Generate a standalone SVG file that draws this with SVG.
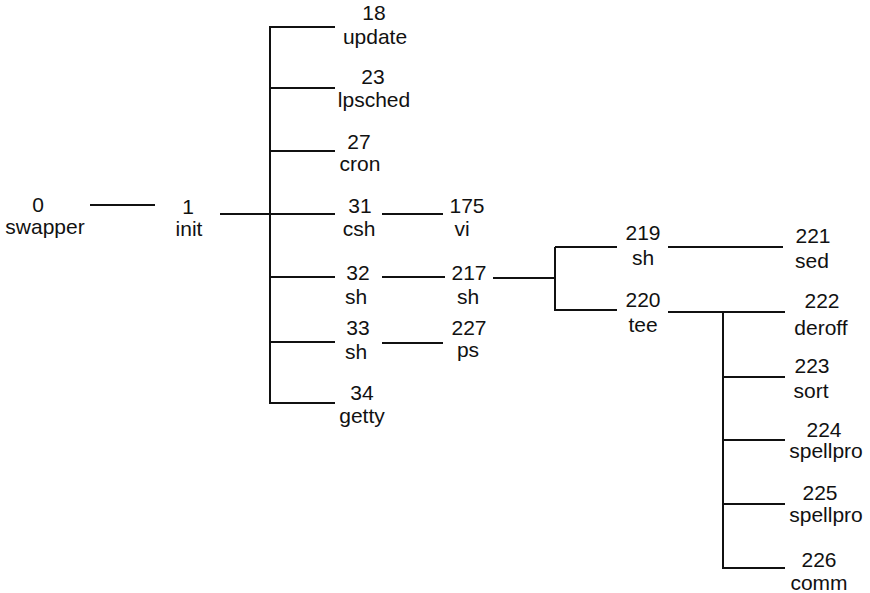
<svg xmlns="http://www.w3.org/2000/svg" width="870" height="593" viewBox="0 0 870 593">
<style>
text{font-family:"Liberation Sans",Arial,sans-serif;font-size:21px;fill:#111;text-anchor:middle}
.c line{stroke:#111;stroke-width:2;fill:none}
</style>
<rect width="870" height="593" fill="#fff"/>
<g class="c" id="connectors">
<line x1="90" y1="205" x2="155" y2="205"/>
<line x1="220" y1="214" x2="270" y2="214"/>
<line x1="270" y1="26" x2="270" y2="404"/>
<line x1="270" y1="27" x2="335" y2="27"/>
<line x1="270" y1="88" x2="335" y2="88"/>
<line x1="270" y1="151" x2="335" y2="151"/>
<line x1="270" y1="214" x2="335" y2="214"/>
<line x1="270" y1="277" x2="335" y2="277"/>
<line x1="270" y1="342" x2="335" y2="342"/>
<line x1="270" y1="403" x2="335" y2="403"/>
<line x1="382" y1="214" x2="443" y2="214"/>
<line x1="382" y1="277" x2="445" y2="277"/>
<line x1="382" y1="343" x2="443" y2="343"/>
<line x1="493" y1="278" x2="556" y2="278"/>
<line x1="555" y1="247" x2="555" y2="311"/>
<line x1="555" y1="247" x2="617" y2="247"/>
<line x1="555" y1="310" x2="617" y2="310"/>
<line x1="668" y1="247" x2="783" y2="247"/>
<line x1="668" y1="312" x2="785" y2="312"/>
<line x1="723" y1="311" x2="723" y2="569"/>
<line x1="723" y1="377" x2="785" y2="377"/>
<line x1="723" y1="440" x2="785" y2="440"/>
<line x1="723" y1="504" x2="785" y2="504"/>
<line x1="723" y1="568" x2="785" y2="568"/>
</g>
<g id="n0"><text x="38" y="212">0</text><text x="45" y="234">swapper</text></g>
<g id="n1"><text x="188" y="214">1</text><text x="189" y="236">init</text></g>
<g id="n18"><text x="374" y="20">18</text><text x="375" y="44">update</text></g>
<g id="n23"><text x="373" y="84">23</text><text x="374" y="107">lpsched</text></g>
<g id="n27"><text x="359" y="149">27</text><text x="360" y="171">cron</text></g>
<g id="n31"><text x="360" y="213">31</text><text x="359" y="236">csh</text></g>
<g id="n32"><text x="358" y="280">32</text><text x="356" y="304">sh</text></g>
<g id="n33"><text x="358" y="335">33</text><text x="356" y="359">sh</text></g>
<g id="n34"><text x="362" y="400">34</text><text x="362" y="423">getty</text></g>
<g id="n175"><text x="467" y="213">175</text><text x="462" y="236">vi</text></g>
<g id="n217"><text x="469" y="280">217</text><text x="468" y="304">sh</text></g>
<g id="n227"><text x="469" y="335">227</text><text x="468" y="357">ps</text></g>
<g id="n219"><text x="643" y="240">219</text><text x="643" y="265">sh</text></g>
<g id="n220"><text x="643" y="307">220</text><text x="643" y="332">tee</text></g>
<g id="n221"><text x="813" y="243">221</text><text x="812" y="268">sed</text></g>
<g id="n222"><text x="822" y="308">222</text><text x="821" y="335">deroff</text></g>
<g id="n223"><text x="812" y="373">223</text><text x="811" y="398">sort</text></g>
<g id="n224"><text x="824" y="437">224</text><text x="826" y="458">spellpro</text></g>
<g id="n225"><text x="820" y="500">225</text><text x="826" y="522">spellpro</text></g>
<g id="n226"><text x="819" y="567">226</text><text x="819" y="590">comm</text></g>
</svg>
